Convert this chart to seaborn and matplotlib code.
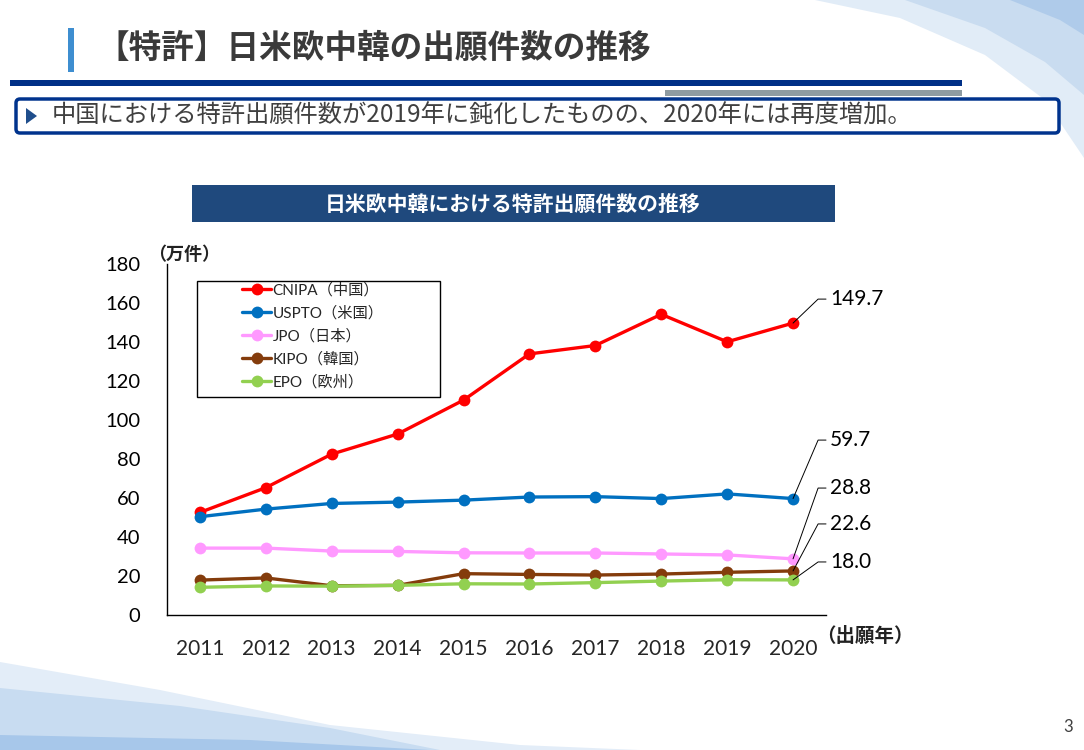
import numpy as np
import pandas as pd
import seaborn as sns
import matplotlib.pyplot as plt
from matplotlib.lines import Line2D
from matplotlib.patches import Rectangle, Polygon, FancyBboxPatch

#%% Data
years = ['2011', '2012', '2013', '2014', '2015', '2016', '2017', '2018', '2019', '2020']
offices = ['CNIPA（中国）', 'USPTO（米国）', 'JPO（日本）', 'KIPO（韓国）', 'EPO（欧州）']
cnipa = [52.6, 65.3, 82.5, 92.8, 110.2, 133.9, 138.2, 154.2, 140.1, 149.7]
uspto = [50.4, 54.3, 57.2, 57.9, 58.9, 60.5, 60.7, 59.7, 62.1, 59.7]
jpo = [34.3, 34.3, 32.8, 32.6, 31.9, 31.8, 31.8, 31.3, 30.8, 28.8]
kipo = [17.9, 19.0, 15.0, 15.2, 21.2, 20.8, 20.5, 21.0, 21.9, 22.6]
epo = [14.2, 14.9, 14.8, 15.2, 16.0, 15.9, 16.6, 17.4, 18.1, 18.0]
colors = ['#FF0000', '#0070C0', '#FF99FF', '#843C0C', '#92D050']
end_labels = ['149.7', '59.7', '28.8', '22.6', '18.0']

series = [cnipa, uspto, jpo, kipo, epo]
df = pd.DataFrame({
    'pos': np.tile(np.arange(len(years)), len(offices)),
    'value': np.concatenate(series),
    'office': np.repeat(offices, len(years)),
})

#%% Figure
sns.set_style('white')
plt.rcParams['font.family'] = ['Lato', 'Noto Sans CJK JP']
JP = 'Noto Sans CJK JP'

fig = plt.figure(figsize=(10.84, 7.5), dpi=100)

# page background in pixel coordinates
bg = fig.add_axes([0, 0, 1, 1], zorder=-1)
bg.set_xlim(0, 1084)
bg.set_ylim(750, 0)
bg.axis('off')

# decorative swooshes
bg.add_patch(Polygon([(815, 0), (900, 18), (985, 55), (1045, 100), (1084, 158), (1084, 0)],
                     closed=True, fc='#E1ECF7', ec='none'))
bg.add_patch(Polygon([(905, 0), (985, 28), (1045, 62), (1084, 95), (1084, 0)],
                     closed=True, fc='#C9DCF0', ec='none'))
bg.add_patch(Polygon([(1010, 0), (1060, 20), (1084, 35), (1084, 0)],
                     closed=True, fc='#AFCBEA', ec='none'))
bg.add_patch(Polygon([(0, 662), (160, 690), (330, 725), (520, 745), (640, 750), (0, 750)],
                     closed=True, fc='#E3EDF8', ec='none'))
bg.add_patch(Polygon([(0, 688), (180, 706), (330, 728), (440, 750), (0, 750)],
                     closed=True, fc='#C8DCF1', ec='none'))
bg.add_patch(Polygon([(0, 735), (250, 740), (430, 750), (0, 750)],
                     closed=True, fc='#A7C7EA', ec='none'))

# header
bg.add_patch(Rectangle((68, 28), 6, 44, fc='#3E8ED0', ec='none'))
bg.text(96, 48, '【特許】日米欧中韓の出願件数の推移', family=JP, fontsize=23.5,
        fontweight='bold', color='#3A3A3A', va='center', ha='left')
bg.add_patch(Rectangle((10, 80), 952, 6, fc='#003087', ec='none'))
bg.add_patch(Rectangle((665, 90), 297, 6, fc='#8E9BA2', ec='none'))
bg.add_patch(FancyBboxPatch((16, 99), 1043, 34, boxstyle='round,pad=0,rounding_size=4',
                            fc='white', ec='#00338D', lw=2.5))
bg.add_patch(Polygon([(26, 108), (37, 116), (26, 124)], closed=True, fc='#1F4E8C', ec='none'))
bg.text(52, 116, '中国における特許出願件数が2019年に鈍化したものの、2020年には再度増加。',
        family=JP, fontsize=17.5, color='#404040', va='center', ha='left')

# chart title bar
bg.add_patch(Rectangle((192, 185), 643, 37, fc='#1F497D', ec='none'))
bg.text(513, 204, '日米欧中韓における特許出願件数の推移', family=JP, fontsize=15,
        fontweight='bold', color='white', va='center', ha='center')

bg.text(148, 255, '（万件）', family=JP, fontsize=13, fontweight='bold',
        color='#222222', va='center', ha='left')
bg.text(816, 636, '（出願年）', family=JP, fontsize=14, fontweight='bold',
        color='#222222', va='center', ha='left')
bg.text(1068, 727, '3', fontsize=12, color='#404040', va='center', ha='center')

#%% Chart
ax = fig.add_axes([0.154, 0.18, 0.608, 0.468])
ax.patch.set_visible(False)

sns.lineplot(data=df, x='pos', y='value', hue='office', hue_order=offices,
             palette=colors, marker='o', markersize=8.5, markeredgewidth=0,
             linewidth=2.4, ax=ax, legend=False)

ax.set_xlim(-0.5, 9.5)
ax.set_ylim(0, 180)
ax.set_yticks(range(0, 181, 20))
ax.set_xticks(range(len(years)))
ax.set_xticklabels(years)
ax.set_xticks(np.arange(-0.5, 10, 1), minor=True)
ax.set_xlabel('')
ax.set_ylabel('')
ax.tick_params(axis='y', direction='in', length=7, width=1, labelsize=14.5,
               pad=19, colors='black')
ax.tick_params(axis='x', which='major', length=0, labelsize=15, pad=17)
ax.tick_params(axis='x', which='minor', direction='in', length=7, width=1)
for s in ['top', 'right']:
    ax.spines[s].set_visible(False)
for s in ['left', 'bottom']:
    ax.spines[s].set_color('black')
    ax.spines[s].set_linewidth(1)

# end labels with leader lines
label_y = [162.0, 89.7, 65.1, 46.7, 27.2]
last = len(years) - 1
for vals, txt, ly in zip(series, end_labels, label_y):
    ax.plot([last, 9.38, 9.5], [vals[-1], ly, ly], color='black', lw=0.7,
            clip_on=False, zorder=5)
    ax.text(9.56, ly, txt, fontsize=15, va='center', ha='left', color='black')

# legend
handles = [Line2D([0], [0], color=c, lw=2.4, marker='o', markersize=8.5,
                  markeredgewidth=0) for c in colors]
ax.legend(handles, offices, loc='upper left', frameon=False,
          bbox_to_anchor=(242 / 1084, 1 - 283 / 750), bbox_transform=fig.transFigure,
          borderpad=0, borderaxespad=0, handlelength=1.9, handletextpad=0.1,
          labelspacing=0.55, fontsize=11)
fig.add_artist(Rectangle((197 / 1084, 1 - 397 / 750), 243 / 1084, 116 / 750,
                         transform=fig.transFigure, fc='none', ec='black', lw=1))

fig.savefig('out.png', dpi=100)
